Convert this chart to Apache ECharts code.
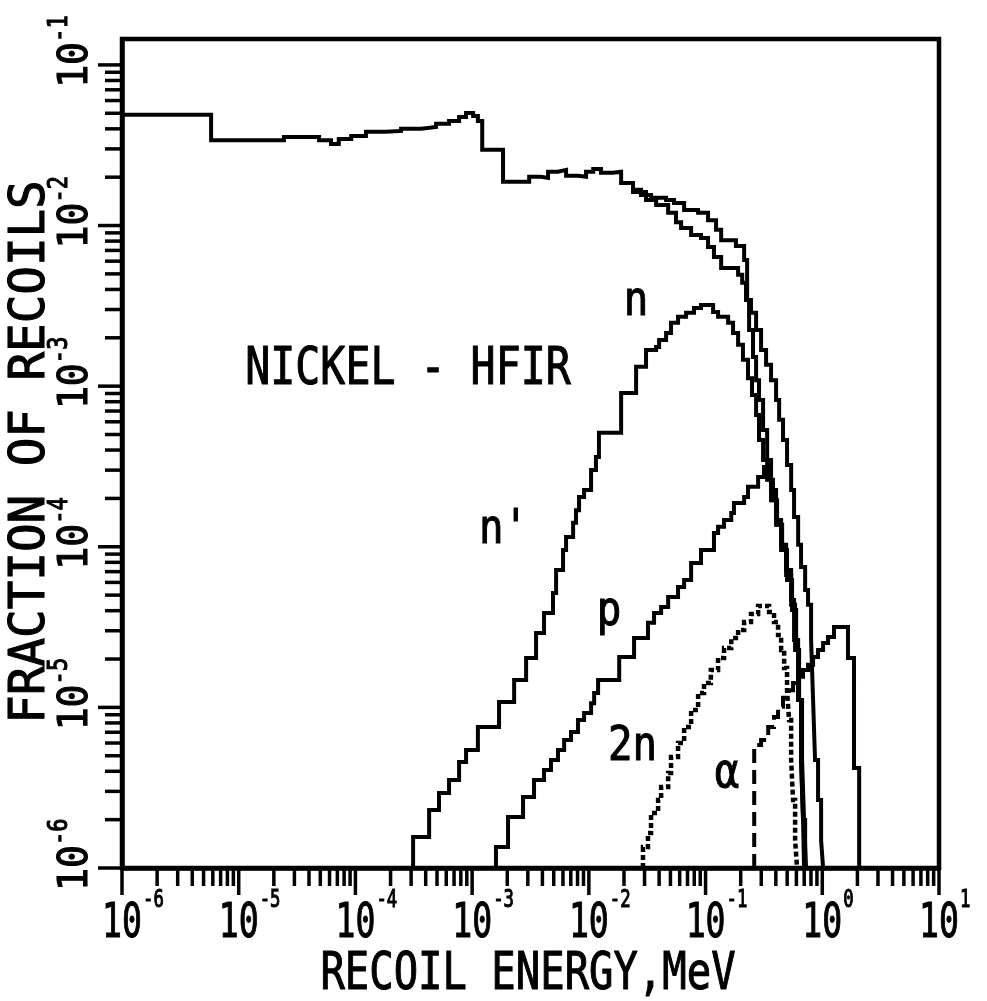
<!DOCTYPE html>
<html>
<head>
<meta charset="utf-8">
<title>Nickel - HFIR recoil spectra</title>
<script src="https://cdn.jsdelivr.net/npm/echarts@6/dist/echarts.min.js"></script>
<style>
  html, body { margin: 0; padding: 0; background: #ffffff; }
  #chart { width: 987px; height: 1001px; }
</style>
</head>
<body>
<div id="chart"></div>
<script>
// Axis ranges (recoil energy in MeV, fraction of recoils)
const X_MIN = 1e-6, X_MAX = 10;
const Y_MIN = 1e-6, Y_MAX = 0.145;

// Decade exponents that carry a "10^n" label, and the minor tick multipliers
const xDecades = [-6, -5, -4, -3, -2, -1, 0, 1];
const yDecades = [-6, -5, -4, -3, -2, -1];
const minorMultipliers = [2, 3, 4, 5, 6, 7, 8, 9];

// Histograms: each pair is [bin start energy (MeV), fraction of recoils in that bin]
const totalRecoils = [
  [1e-6, 4.9e-2], [5.8e-6, 3.4e-2], [2.44e-5, 3.56e-2], [4.88e-5, 3.4e-2],
  [6.18e-5, 3.22e-2], [7.2e-5, 3.46e-2], [9.2e-5, 3.61e-2], [1.23e-4, 3.83e-2],
  [1.83e-4, 3.88e-2], [2.46e-4, 4.0e-2], [3.65e-4, 4.11e-2], [4.91e-4, 4.3e-2],
  [6.34e-4, 4.48e-2], [7.73e-4, 4.74e-2], [8.87e-4, 5.02e-2], [1.02e-3, 4.81e-2],
  [1.12e-3, 4.48e-2], [1.22e-3, 2.96e-2], [1.84e-3, 1.87e-2], [3.08e-3, 2.01e-2],
  [3.89e-3, 1.98e-2], [4.47e-3, 2.16e-2], [5.44e-3, 2.22e-2], [6.38e-3, 2.04e-2],
  [8.07e-3, 2.01e-2], [9.46e-3, 2.16e-2], [1.09e-2, 2.25e-2], [1.27e-2, 2.13e-2],
  [1.61e-2, 2.16e-2], [1.89e-2, 1.84e-2], [2.39e-2, 1.67e-2], [2.8e-2, 1.55e-2],
  [3.41e-2, 1.49e-2], [4.59e-2, 1.44e-2], [5.37e-2, 1.38e-2], [6.55e-2, 1.25e-2],
  [8.63e-2, 1.2e-2], [0.105, 1.08e-2], [0.123, 9.4e-3], [0.136, 8.1e-3],
  [0.182, 7.46e-3], [0.214, 6.1e-3], [0.227, 3.44e-3], [0.245, 2.86e-3],
  [0.271, 2.24e-3], [0.299, 1.68e-3], [0.33, 1.36e-3], [0.364, 1.09e-3],
  [0.402, 8.2e-4], [0.427, 6.17e-4], [0.461, 4.62e-4], [0.499, 3.23e-4],
  [0.541, 2.26e-4], [0.573, 1.53e-4], [0.621, 1.03e-4], [0.658, 7.48e-5],
  [0.713, 5.38e-5], [0.755, 4.35e-5], [0.802, 2.63e-5], [0.834, 1.11e-5],
  [0.867, 4.7e-6], [0.92, 2.65e-6], [0.977, 1.49e-6], [1.016, 1e-6]
];

const elasticRecoils = [
  [1.89e-2, 1.84e-2], [2.39e-2, 1.62e-2], [3.09e-2, 1.44e-2], [3.77e-2, 1.34e-2],
  [4.78e-2, 1.2e-2], [5.58e-2, 1.05e-2], [6.17e-2, 9.66e-3], [7.52e-2, 8.74e-3],
  [9.14e-2, 8.37e-3], [0.105, 7.36e-3], [0.118, 6.37e-3], [0.136, 5.44e-3],
  [0.19, 4.93e-3], [0.206, 4.4e-3], [0.222, 3.44e-3], [0.236, 2.24e-3],
  [0.255, 1.52e-3], [0.271, 1.09e-3], [0.287, 8.2e-4], [0.311, 5.33e-4],
  [0.337, 3.47e-4], [0.364, 2.26e-4], [0.402, 1.47e-4], [0.444, 1.03e-4],
  [0.49, 7.18e-5], [0.541, 4.67e-5], [0.573, 2.63e-5], [0.621, 1.11e-5],
  [0.658, 4.7e-6], [0.684, 1.99e-6], [0.713, 1e-6]
];

const inelasticRecoils = [
  [3.12e-4, 1e-6], [3.12e-4, 1.56e-6], [4.28e-4, 2.3e-6], [5.2e-4, 2.93e-6],
  [6.34e-4, 3.53e-6], [7.73e-4, 4.57e-6], [8.87e-4, 5.43e-6], [1.12e-3, 7.55e-6],
  [1.7e-3, 1.08e-5], [2.29e-3, 1.48e-5], [2.9e-3, 2.03e-5], [3.53e-3, 2.9e-5],
  [4.13e-3, 3.87e-5], [4.93e-3, 5.15e-5], [5.24e-3, 7.18e-5], [6.01e-3, 9.55e-5],
  [6.38e-3, 1.15e-4], [7.33e-3, 1.41e-4], [7.76e-3, 1.69e-4], [8.24e-3, 2.04e-4],
  [9.1e-3, 2.26e-4], [1.045e-2, 3.01e-4], [1.15e-2, 3.62e-4], [1.22e-2, 5.12e-4],
  [1.89e-2, 9.08e-4], [2.54e-2, 1.32e-3], [3.09e-2, 1.68e-3], [3.77e-2, 1.75e-3],
  [4.0e-2, 1.94e-3], [4.59e-2, 2.14e-3], [5.06e-2, 2.48e-3], [5.81e-2, 2.7e-3],
  [6.81e-2, 2.86e-3], [7.96e-2, 3.07e-3], [9.14e-2, 3.2e-3], [0.105, 3.2e-3],
  [0.116, 2.9e-3], [0.128, 2.7e-3], [0.156, 2.48e-3], [0.172, 2.14e-3],
  [0.19, 1.81e-3], [0.209, 1.46e-3], [0.231, 1.12e-3], [0.25, 8.81e-4],
  [0.271, 6.62e-4], [0.287, 4.62e-4], [0.311, 3.47e-4], [0.337, 2.61e-4],
  [0.364, 1.95e-4], [0.402, 1.37e-4], [0.444, 9.55e-5], [0.49, 6.67e-5],
  [0.541, 4.35e-5], [0.585, 2.28e-5], [0.621, 1.11e-5], [0.658, 4.7e-6],
  [0.684, 1.99e-6], [0.698, 1e-6]
];

const protonRecoils = [
  [1.6e-3, 1e-6], [1.6e-3, 1.35e-6], [2.03e-3, 2.08e-6], [2.73e-3, 2.77e-6],
  [3.39e-3, 3.53e-6], [4.13e-3, 4.07e-6], [4.74e-3, 4.7e-6], [5.44e-3, 5.43e-6],
  [6.14e-3, 6.27e-6], [7.03e-3, 7.03e-6], [8.07e-3, 8.35e-6], [9.1e-3, 9.23e-6],
  [1.045e-2, 1.06e-5], [1.11e-2, 1.23e-5], [1.2e-2, 1.48e-5], [1.82e-2, 2.06e-5],
  [2.44e-2, 2.7e-5], [3.21e-2, 3.36e-5], [3.62e-2, 3.87e-5], [4.16e-2, 4.22e-5],
  [4.78e-2, 4.86e-5], [5.81e-2, 5.62e-5], [6.55e-2, 6.21e-5], [7.52e-2, 7.93e-5],
  [9.14e-2, 9.55e-5], [0.118, 1.22e-4], [0.128, 1.33e-4], [0.144, 1.47e-4],
  [0.166, 1.62e-4], [0.175, 1.87e-4], [0.214, 2.04e-4], [0.231, 2.36e-4],
  [0.282, 2.72e-4], [0.317, 3.14e-4], [0.35, 2.61e-4], [0.378, 1.95e-4],
  [0.41, 1.37e-4], [0.453, 9.55e-5], [0.499, 6.21e-5], [0.551, 4.04e-5],
  [0.597, 2.28e-5], [0.633, 1.11e-5], [0.671, 4.7e-6], [0.698, 1.99e-6],
  [0.726, 1e-6]
];

const twoNRecoils = [
  [2.91e-2, 1e-6], [2.91e-2, 1.35e-6], [3.21e-2, 1.65e-6], [3.41e-2, 2.2e-6],
  [3.92e-2, 2.65e-6], [4.16e-2, 3.19e-6], [4.78e-2, 3.91e-6], [5.06e-2, 4.91e-6],
  [5.81e-2, 6.0e-6], [6.55e-2, 7.55e-6], [7.52e-2, 9.64e-6], [8.63e-2, 1.23e-5],
  [9.7e-2, 1.42e-5], [0.111, 1.71e-5], [0.128, 2.03e-5], [0.144, 2.34e-5],
  [0.166, 2.7e-5], [0.19, 3.03e-5], [0.214, 3.4e-5], [0.245, 3.82e-5],
  [0.282, 4.28e-5], [0.317, 4.28e-5], [0.35, 3.93e-5], [0.386, 3.4e-5],
  [0.418, 2.82e-5], [0.444, 2.28e-5], [0.471, 1.76e-5], [0.499, 1.28e-5],
  [0.519, 8.35e-6], [0.541, 4.7e-6], [0.562, 2.65e-6], [0.585, 1.49e-6],
  [0.608, 1e-6]
];

// (n,alpha): dashed low-energy rise, then the solid part up to the cutoff
const alphaRecoilsRise = [
  [0.261, 1e-6], [0.261, 5.83e-6], [0.299, 6.27e-6], [0.344, 7.55e-6],
  [0.386, 8.71e-6], [0.418, 1.01e-5], [0.461, 1.15e-5], [0.519, 1.28e-5]
];
const alphaRecoils = [
  [0.519, 1.28e-5], [0.562, 1.42e-5], [0.621, 1.55e-5], [0.684, 1.71e-5],
  [0.755, 1.84e-5], [0.834, 2.06e-5], [0.92, 2.28e-5], [1.016, 2.52e-5],
  [1.12, 2.74e-5], [1.26, 3.17e-5], [1.66, 2.03e-5], [1.87, 4.2e-6],
  [2.07, 1e-6]
];

const INK = '#000000';
const FAMILY = '"DejaVu Sans Mono", monospace';
const WEIGHT = 'normal';

function pow10(n) { return Number('1e' + n); }
function supText(n) { return n < 0 ? '-' + Math.abs(n) : String(n); }

function textEl(text, x, y, size, sx, align, rotation) {
  return {
    type: 'text', x: x, y: y, rotation: rotation || 0, scaleX: sx, scaleY: 1,
    style: {
      text: text, fill: INK, font: WEIGHT + ' ' + size + 'px ' + FAMILY,
      stroke: INK, lineWidth: 1.1,
      align: align, verticalAlign: 'middle',
      textAlign: align, textVerticalAlign: 'middle'
    }
  };
}

// Tick positions along both axes (value, fixed other coordinate, exponent, major flag)
const xTickData = [];
xDecades.forEach(function (n) {
  xTickData.push([pow10(n), Y_MIN, n, 1]);
  minorMultipliers.forEach(function (m) {
    const v = m * pow10(n);
    if (v < X_MAX) xTickData.push([v, Y_MIN, n, 0]);
  });
});
const yTickData = [];
yDecades.forEach(function (n) {
  yTickData.push([X_MIN, pow10(n), n, 1]);
  minorMultipliers.forEach(function (m) {
    const v = m * pow10(n);
    if (v < Y_MAX) yTickData.push([X_MIN, v, n, 0]);
  });
});

function renderXTick(params, api) {
  const p = api.coord([api.value(0), Y_MIN]);
  const major = api.value(3) === 1;
  const children = [{
    type: 'line',
    shape: { x1: p[0], y1: p[1], x2: p[0], y2: p[1] + (major ? 27 : 18) },
    style: { stroke: INK, lineWidth: 3.5 }
  }];
  if (major) {
    const n = api.value(2);
    children.push(textEl('10', p[0], p[1] + 57, 48, 0.69, 'center', 0));
    children.push(textEl(supText(n), p[0] + 21, p[1] + 33, 24, 0.72, 'left', 0));
  }
  return { type: 'group', children: children };
}

function renderYTick(params, api) {
  const p = api.coord([X_MIN, api.value(1)]);
  const major = api.value(3) === 1;
  const children = [{
    type: 'line',
    shape: { x1: p[0] - (major ? 24 : 17), y1: p[1], x2: p[0], y2: p[1] },
    style: { stroke: INK, lineWidth: 3.5 }
  }];
  if (major) {
    const n = api.value(2);
    children.push(textEl('10', p[0] - 46, p[1], 41, 0.93, 'center', Math.PI / 2));
    children.push(textEl(supText(n), p[0] - 62, p[1] - 23, 26, 0.85, 'left', Math.PI / 2));
  }
  return { type: 'group', children: children };
}

function stepSeries(name, data, width, lineType) {
  return {
    name: name, type: 'line', step: 'end', data: data,
    showSymbol: false, symbol: 'none', silent: true,
    lineStyle: { color: INK, width: width, type: lineType || 'solid', cap: 'butt', join: 'miter' },
    z: 3
  };
}

const chart = echarts.init(document.getElementById('chart'), null, { renderer: 'canvas', width: 987, height: 1001 });

chart.setOption({
  animation: false,
  backgroundColor: '#ffffff',
  grid: {
    left: 122, top: 39, width: 817, height: 829,
    show: true, borderColor: INK, borderWidth: 4.5, backgroundColor: 'transparent',
    containLabel: false
  },
  xAxis: {
    type: 'log', logBase: 10, min: X_MIN, max: X_MAX,
    axisLine: { show: true, lineStyle: { color: INK, width: 4.5 } },
    axisTick: { show: false }, axisLabel: { show: false }, splitLine: { show: false }
  },
  yAxis: {
    type: 'log', logBase: 10, min: Y_MIN, max: Y_MAX,
    axisLine: { show: true, lineStyle: { color: INK, width: 4.5 } },
    axisTick: { show: false }, axisLabel: { show: false }, splitLine: { show: false }
  },
  series: [
    stepSeries('total', totalRecoils, 4),
    stepSeries('n', elasticRecoils, 4),
    stepSeries("n'", inelasticRecoils, 4),
    stepSeries('p', protonRecoils, 4),
    stepSeries('2n', twoNRecoils, 4.5, [5, 3]),
    stepSeries('alpha rise', alphaRecoilsRise, 4, [14, 7]),
    stepSeries('alpha', alphaRecoils, 4),
    { type: 'custom', name: 'x ticks', data: xTickData, renderItem: renderXTick, clip: false, silent: true, z: 5 },
    { type: 'custom', name: 'y ticks', data: yTickData, renderItem: renderYTick, clip: false, silent: true, z: 5 }
  ],
  graphic: [
    textEl('FRACTION OF RECOILS', 31, 452, 50, 0.95, 'center', Math.PI / 2),
    textEl('RECOIL ENERGY,MeV', 528, 975, 52, 0.78, 'center', 0),
    textEl('NICKEL - HFIR', 408, 370, 52, 0.8, 'center', 0),
    textEl('n', 636, 303, 48, 0.85, 'center', 0),
    textEl("n'", 479, 531, 48, 0.85, 'left', 0),
    textEl('p', 609, 613, 48, 0.85, 'center', 0),
    textEl('2n', 608, 748, 48, 0.85, 'left', 0),
    textEl('\u03b1', 727, 775, 48, 0.85, 'center', 0)
  ]
});
</script>
</body>
</html>
